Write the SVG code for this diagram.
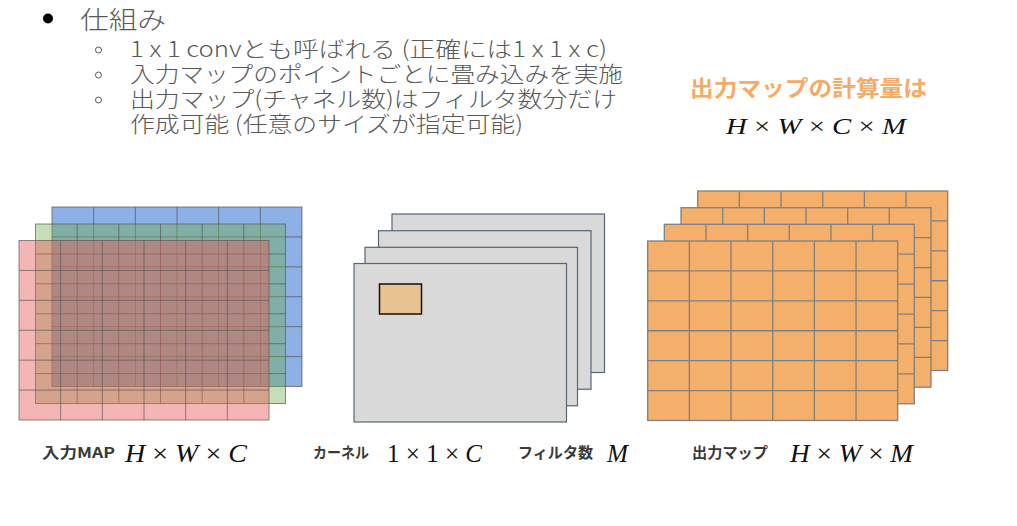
<svg xmlns="http://www.w3.org/2000/svg" xmlns:xlink="http://www.w3.org/1999/xlink" width="1017" height="526" viewBox="0 0 1017 526">
<style>
.jp{font-family:"Noto Sans CJK JP","Noto Sans",sans-serif;fill:#595959;font-weight:300}
.lbl{font-family:"Noto Sans CJK JP","Noto Sans",sans-serif;font-size:15px;font-weight:bold;fill:#3a3a3a}
.math{font-family:"Liberation Serif","DejaVu Serif",serif;font-style:italic;fill:#111}
.op{font-style:normal}
.blue{fill:#8DB0E6;stroke:#5a5a5a;stroke-width:1;stroke-opacity:0.75}
.green{fill:rgb(112,173,71);fill-opacity:0.4;stroke:#5a5a5a;stroke-width:1;stroke-opacity:0.7}
.red{fill:rgb(230,90,90);fill-opacity:0.45;stroke:#5a5a5a;stroke-width:1;stroke-opacity:0.7}
.orange{fill:#F4AF6A;stroke:#808080;stroke-width:1.3}
.kern{fill:#D9D9D9;stroke:#56657A;stroke-width:1.2}
.sub{fill:none;stroke:#595959;stroke-width:1}
</style>
<defs>
<g id="grid">
<rect x="0" y="0" width="250" height="179.5"/>
<path fill="none" d="M41.67 0V179.5M83.33 0V179.5M125 0V179.5M166.67 0V179.5M208.33 0V179.5M0 29.92H250M0 59.83H250M0 89.75H250M0 119.67H250M0 149.58H250"/>
</g>
</defs>
<g id="bullets-text">
<circle cx="48" cy="18.5" r="5" fill="#000"/>
<text class="jp" x="80" y="29" font-size="25" textLength="86" lengthAdjust="spacingAndGlyphs">仕組み</text>
<circle class="sub" cx="98.5" cy="50" r="3"/>
<circle class="sub" cx="98.5" cy="75" r="3"/>
<circle class="sub" cx="98.5" cy="100" r="3"/>
<text class="jp" x="130" y="57" font-size="22" textLength="477" lengthAdjust="spacingAndGlyphs">1 x 1 convとも呼ばれる (正確には1 x 1 x c)</text>
<text class="jp" x="130" y="81.5" font-size="22" textLength="493" lengthAdjust="spacingAndGlyphs">入力マップのポイントごとに畳み込みを実施</text>
<text class="jp" x="130" y="107" font-size="22" textLength="487" lengthAdjust="spacingAndGlyphs">出力マップ(チャネル数)はフィルタ数分だけ</text>
<text class="jp" x="130" y="132" font-size="22" textLength="393" lengthAdjust="spacingAndGlyphs">作成可能 (任意のサイズが指定可能)</text>
</g>
<g id="cost-note">
<text x="690" y="96" font-family="Noto Sans CJK JP, Noto Sans, sans-serif" font-size="22" font-weight="bold" fill="#F5AA66" textLength="237" lengthAdjust="spacingAndGlyphs">出力マップの計算量は</text>
<text class="math" x="726" y="134" font-size="23" textLength="180" lengthAdjust="spacingAndGlyphs">H <tspan class="op">×</tspan> W <tspan class="op">×</tspan> C <tspan class="op">×</tspan> M</text>
</g>
<g id="input-map">
<use xlink:href="#grid" href="#grid" class="blue" transform="translate(52,207)"/>
<use xlink:href="#grid" href="#grid" class="green" transform="translate(35.5,224)"/>
<use xlink:href="#grid" href="#grid" class="red" transform="translate(19,240.5)"/>
</g>
<g id="kernel">
<rect class="kern" x="392" y="214" width="212.5" height="158.5"/>
<rect class="kern" x="378.5" y="230.7" width="212.5" height="158.5"/>
<rect class="kern" x="365" y="247.3" width="212.5" height="158.5"/>
<rect class="kern" x="354" y="263.5" width="212.5" height="158.5"/>
<rect x="379.5" y="284" width="42" height="30" fill="#E8C291" stroke="#111" stroke-width="1.5"/>
</g>
<g id="output-map">
<use xlink:href="#grid" href="#grid" class="orange" transform="translate(697.7,191)"/>
<use xlink:href="#grid" href="#grid" class="orange" transform="translate(681,207.7)"/>
<use xlink:href="#grid" href="#grid" class="orange" transform="translate(664.3,224.3)"/>
<use xlink:href="#grid" href="#grid" class="orange" transform="translate(647.7,241)"/>
</g>
<g id="labels">
<text class="lbl" x="42" y="458" textLength="73" lengthAdjust="spacingAndGlyphs">入力MAP</text>
<text class="math" x="125" y="462" font-size="25" textLength="122" lengthAdjust="spacingAndGlyphs">H <tspan class="op">×</tspan> W <tspan class="op">×</tspan> C</text>
<text class="lbl" x="313" y="458" textLength="56" lengthAdjust="spacingAndGlyphs">カーネル</text>
<text class="math" x="387" y="462" font-size="25" textLength="95" lengthAdjust="spacingAndGlyphs"><tspan class="op">1 × 1 ×</tspan> C</text>
<text class="lbl" x="518" y="458" textLength="75" lengthAdjust="spacingAndGlyphs">フィルタ数</text>
<text class="math" x="607" y="462" font-size="25" textLength="21" lengthAdjust="spacingAndGlyphs">M</text>
<text class="lbl" x="692" y="458" textLength="76" lengthAdjust="spacingAndGlyphs">出力マップ</text>
<text class="math" x="790" y="462" font-size="25" textLength="123" lengthAdjust="spacingAndGlyphs">H <tspan class="op">×</tspan> W <tspan class="op">×</tspan> M</text>
</g>
<g id="connectors"/>
</svg>
